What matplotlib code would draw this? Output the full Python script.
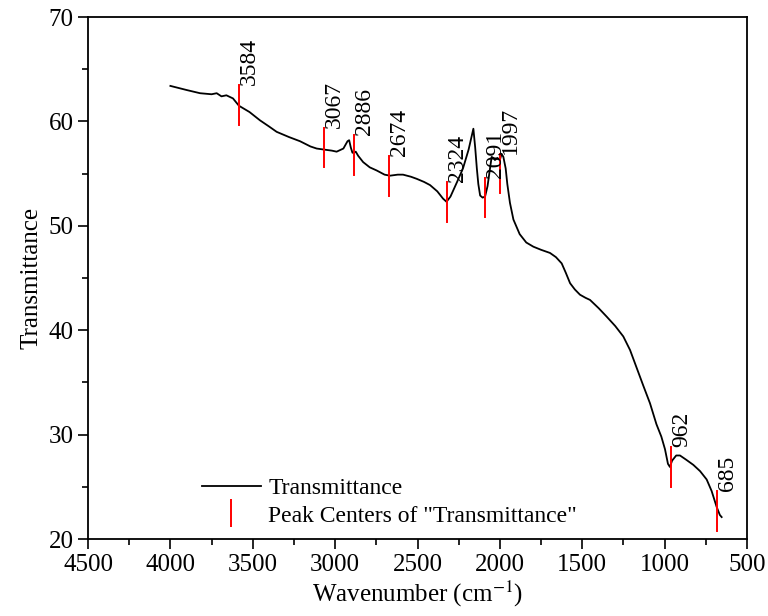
import matplotlib
matplotlib.use("Agg")
import matplotlib.pyplot as plt
from matplotlib.lines import Line2D
from matplotlib.ticker import MultipleLocator

plt.rcParams['font.family'] = ['Liberation Serif', 'DejaVu Serif']
plt.rcParams['mathtext.fontset'] = 'stix'

# FTIR spectrum
wavenumber = [4000, 3900, 3820, 3750, 3719, 3690, 3660, 3620, 3584, 3520,
              3456, 3400, 3355, 3280, 3213, 3150, 3112, 3067, 3020, 2991,
              2950, 2925, 2915, 2905, 2895, 2886, 2875, 2860, 2830, 2790,
              2748, 2700, 2667, 2620, 2588, 2540, 2505, 2460, 2424, 2380,
              2345, 2324, 2300, 2260, 2224, 2190, 2161, 2150, 2140, 2131,
              2120, 2105, 2090, 2075, 2060, 2050, 2040, 2030, 2015, 2000,
              1990, 1979, 1965, 1955, 1939, 1918, 1880, 1840, 1797, 1750,
              1696, 1660, 1625, 1600, 1574, 1545, 1514, 1480, 1453, 1400,
              1352, 1300, 1251, 1210, 1170, 1130, 1089, 1050, 1020, 998,
              980, 968, 955, 930, 907, 870, 826, 785, 745, 715,
              685, 665, 654]
transmittance = [63.4, 63.0, 62.7, 62.6, 62.7, 62.4, 62.5, 62.2, 61.5, 60.9,
                 60.1, 59.5, 59.0, 58.5, 58.1, 57.6, 57.4, 57.3, 57.2, 57.1,
                 57.4, 58.1, 58.2, 57.5, 57.0, 57.0, 57.1, 56.7, 56.1, 55.6,
                 55.3, 54.9, 54.8, 54.9, 54.9, 54.7, 54.5, 54.2, 53.9, 53.3,
                 52.6, 52.3, 52.8, 54.2, 55.5, 57.3, 59.3, 57.5, 55.5, 54.0,
                 52.9, 52.7, 52.8, 53.8, 55.5, 56.6, 56.5, 56.3, 56.5, 56.3,
                 56.9, 56.6, 55.5, 54.0, 52.2, 50.6, 49.2, 48.4, 48.0, 47.7,
                 47.4, 47.0, 46.4, 45.5, 44.5, 43.9, 43.4, 43.1, 42.9, 42.1,
                 41.3, 40.4, 39.4, 38.1, 36.4, 34.7, 33.0, 31.0, 29.8, 28.6,
                 27.2, 26.9, 27.5, 28.0, 28.0, 27.6, 27.1, 26.5, 25.7, 24.6,
                 23.1, 22.3, 22.1]

peak_x = [3584, 3067, 2886, 2674, 2324, 2091, 1997, 962, 685]
peak_y = [61.6, 57.5, 56.8, 54.8, 52.3, 52.7, 55.0, 26.9, 22.7]
peak_labels = ["3584", "3067", "2886", "2674", "2324", "2091", "1997", "962", "685"]

fig = plt.figure(figsize=(7.68, 6.16), dpi=100)
ax = fig.add_axes([0.1146, 0.125, 0.8581, 0.8474])

ax.plot(wavenumber, transmittance, color='black', linewidth=1.3)

# peak markers and labels
half = 1.9
for px, py, lab in zip(peak_x, peak_y, peak_labels):
    ax.plot([px, px], [py - half, py + half], color='red', linewidth=1.4)
    ax.text(px, py + half, lab, rotation=90, ha='left', va='bottom',
            fontsize=17)

ax.set_xlim(4500, 500)
ax.set_ylim(20, 70)
ax.xaxis.set_major_locator(MultipleLocator(500))
ax.xaxis.set_minor_locator(MultipleLocator(250))
ax.yaxis.set_major_locator(MultipleLocator(10))
ax.yaxis.set_minor_locator(MultipleLocator(5))
ax.tick_params(which='major', direction='out', length=7, width=1.2,
               labelsize=18, top=False, right=False)
ax.tick_params(which='minor', direction='out', length=4, width=1.2,
               top=False, right=False)
for s in ax.spines.values():
    s.set_linewidth(1.3)

ax.set_xlabel("Wavenumber (cm$^{-1}$)", fontsize=18, labelpad=2)
ax.set_ylabel("Transmittance", fontsize=18, labelpad=4)

handles = [Line2D([], [], color='black', linewidth=1.3),
           Line2D([], [], color='red', linestyle='none', marker='|',
                  markersize=20, markeredgewidth=1.4)]
ax.legend(handles, ["Transmittance", 'Peak Centers of "Transmittance"'],
          loc='upper left', bbox_to_anchor=(0.155, 0.14), frameon=False,
          fontsize=17, handlelength=2.5, handletextpad=0.3,
          borderpad=0, labelspacing=0.25)

fig.savefig("out.png", dpi=100)
